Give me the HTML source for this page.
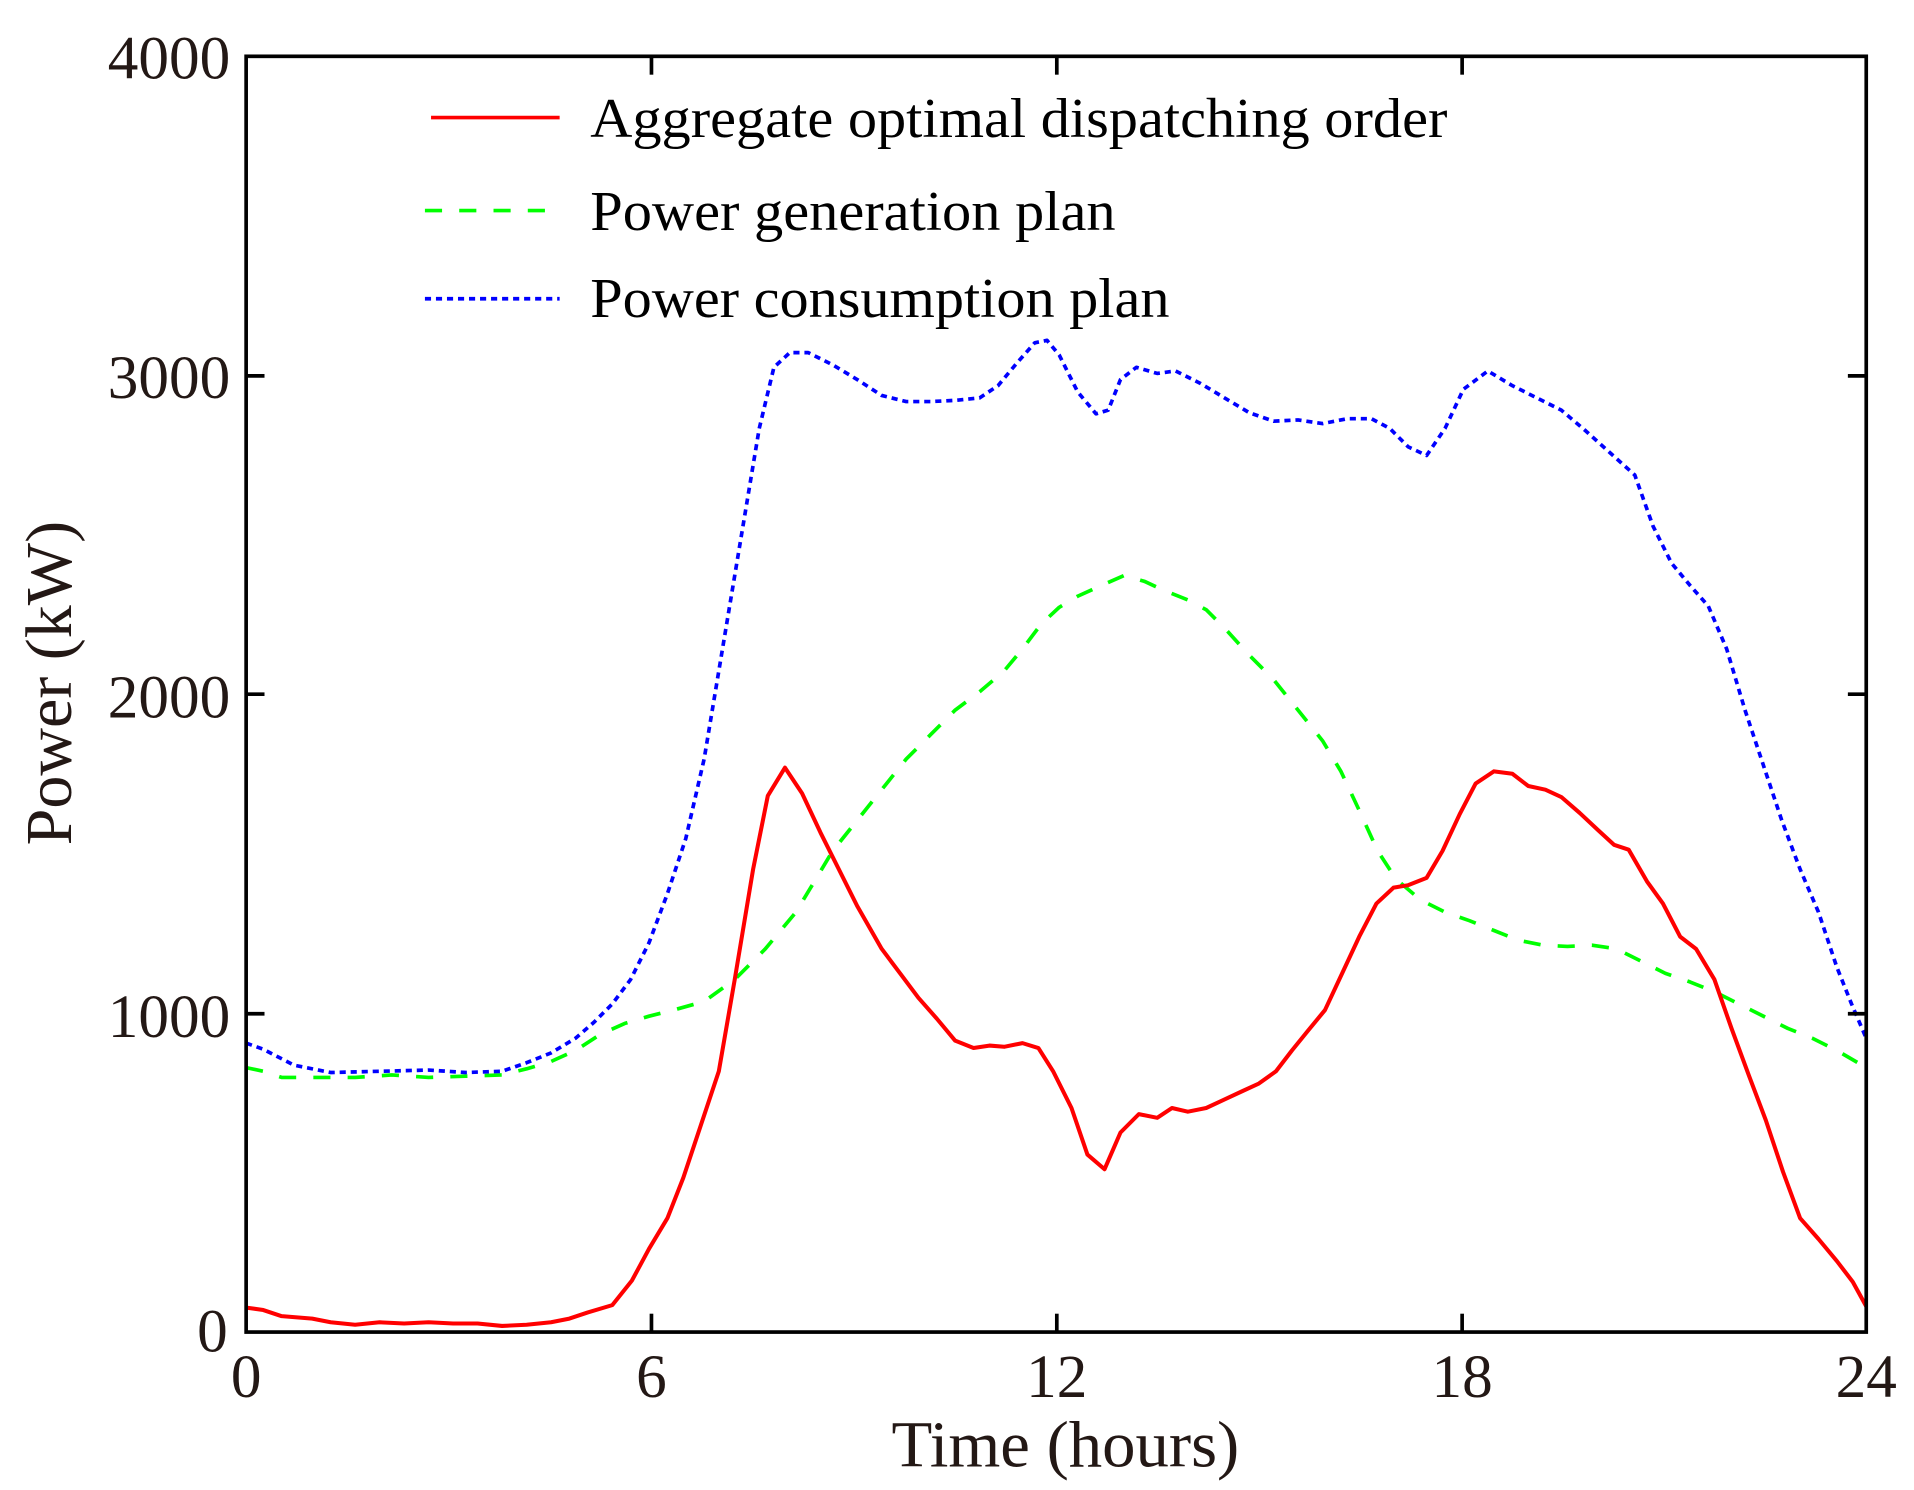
<!DOCTYPE html>
<html><head><meta charset="utf-8"><style>html,body{margin:0;padding:0;background:#fff}svg{display:block}</style></head>
<body>
<svg width="1914" height="1490" viewBox="0 0 1563 1217" preserveAspectRatio="none" xmlns="http://www.w3.org/2000/svg">
<rect width="1563" height="1217" fill="#fff"/>
<g font-family="'Liberation Serif', serif" fill="#231815">
<g font-size="50" text-anchor="end">
<text x="188" y="64">4000</text>
<text x="188" y="325">3000</text>
<text x="188" y="586">2000</text>
<text x="188" y="847">1000</text>
<text x="186" y="1104">0</text>
</g>
<g font-size="50" text-anchor="middle">
<text x="201" y="1141">0</text>
<text x="532" y="1141">6</text>
<text x="863" y="1141">12</text>
<text x="1194" y="1141">18</text>
<text x="1524" y="1141">24</text>
</g>
<text x="870" y="1198" font-size="54" text-anchor="middle" textLength="284" lengthAdjust="spacingAndGlyphs">Time (hours)</text>
<text transform="translate(58,558) rotate(-90)" font-size="54" text-anchor="middle" textLength="265" lengthAdjust="spacingAndGlyphs">Power (kW)</text>
<g font-size="46" fill="#000">
<text x="482" y="112" textLength="700" lengthAdjust="spacingAndGlyphs">Aggregate optimal dispatching order</text>
<text x="482" y="188" textLength="429" lengthAdjust="spacingAndGlyphs">Power generation plan</text>
<text x="482" y="259" textLength="473" lengthAdjust="spacingAndGlyphs">Power consumption plan</text>
</g>
</g>
<line x1="352" y1="96" x2="457" y2="96" stroke="#f00" stroke-width="3"/>
<line x1="347" y1="172" x2="457" y2="172" stroke="#0f0" stroke-width="3" stroke-dasharray="14,14"/>
<line x1="347" y1="244" x2="457" y2="244" stroke="#00f" stroke-width="3" stroke-dasharray="5,4"/>
<g fill="none" stroke-width="3" stroke-linejoin="round">
<polyline stroke="#0f0" stroke-dasharray="14,14" points="201,872 215,875 230,880 260,880 290,880 320,878 350,880 380,879 410,878 430,873 450,867 470,858 490,845 510,836 530,830 550,825 575,818 600,800 625,775 650,745 665,720 680,695 700,670 720,645 740,620 760,600 780,580 800,565 820,548 835,530 850,510 865,496 880,487 900,478 918,470 935,475 950,482 970,490 985,498 1000,513 1020,535 1040,555 1060,580 1080,605 1095,630 1110,662 1125,695 1140,718 1160,735 1180,745 1200,752 1220,760 1240,768 1260,772 1280,773 1300,772 1320,775 1340,785 1360,795 1380,802 1400,810 1420,820 1440,830 1460,840 1480,848 1500,858 1524,872"/>
<polyline stroke="#00f" stroke-dasharray="5,4" points="201,852 215,857 240,870 270,876 310,875 350,874 380,876 410,875 430,868 450,860 470,848 485,835 500,820 515,800 530,770 545,730 560,685 575,620 590,530 605,440 620,350 632,300 645,288 660,288 680,298 700,310 720,323 740,328 760,328 780,327 800,325 815,315 830,297 845,280 855,278 865,290 880,320 895,338 905,335 915,310 928,300 945,305 960,303 980,313 1000,325 1020,337 1040,344 1060,343 1080,346 1100,342 1120,342 1135,350 1150,365 1165,372 1180,350 1195,318 1215,303 1235,315 1255,325 1275,335 1295,352 1315,370 1335,388 1350,430 1365,460 1380,478 1395,495 1410,530 1425,580 1440,625 1455,670 1470,710 1485,745 1500,790 1512,820 1524,848"/>
<polyline stroke="#f00" stroke-width="3.3" points="201,1068 215,1070 230,1075 255,1077 270,1080 290,1082 310,1080 330,1081 350,1080 370,1081 390,1081 410,1083 430,1082 450,1080 465,1077 480,1072 500,1066 516,1046 530,1020 545,995 558,962 572,920 587,875 600,800 615,710 627,650 641,627 655,648 670,680 685,710 700,740 720,775 735,795 750,815 765,832 780,850 795,856 808,854 820,855 835,852 848,856 860,875 875,905 888,943 902,955 915,925 930,910 945,913 957,905 970,908 985,905 1000,898 1015,891 1028,885 1042,875 1055,858 1068,842 1082,825 1096,795 1110,765 1124,738 1138,725 1150,723 1165,717 1178,695 1192,665 1205,640 1220,630 1235,632 1248,642 1262,645 1275,651 1290,664 1305,678 1318,690 1330,694 1345,720 1358,738 1372,765 1385,775 1400,800 1414,840 1428,878 1442,915 1456,957 1470,995 1485,1012 1500,1030 1513,1047 1524,1067"/>
</g>
<g stroke="#000" stroke-width="3" fill="none">
<rect x="201" y="46" width="1323" height="1042"/>
<line x1="201" y1="307" x2="216" y2="307"/><line x1="201" y1="567" x2="216" y2="567"/><line x1="201" y1="828" x2="216" y2="828"/>
<line x1="1524" y1="307" x2="1509" y2="307"/><line x1="1524" y1="567" x2="1509" y2="567"/><line x1="1524" y1="828" x2="1509" y2="828"/>
<line x1="532" y1="1088" x2="532" y2="1073"/><line x1="863" y1="1088" x2="863" y2="1073"/><line x1="1194" y1="1088" x2="1194" y2="1073"/>
<line x1="532" y1="46" x2="532" y2="61"/><line x1="863" y1="46" x2="863" y2="61"/><line x1="1194" y1="46" x2="1194" y2="61"/>
</g>
</svg>
</body></html>
